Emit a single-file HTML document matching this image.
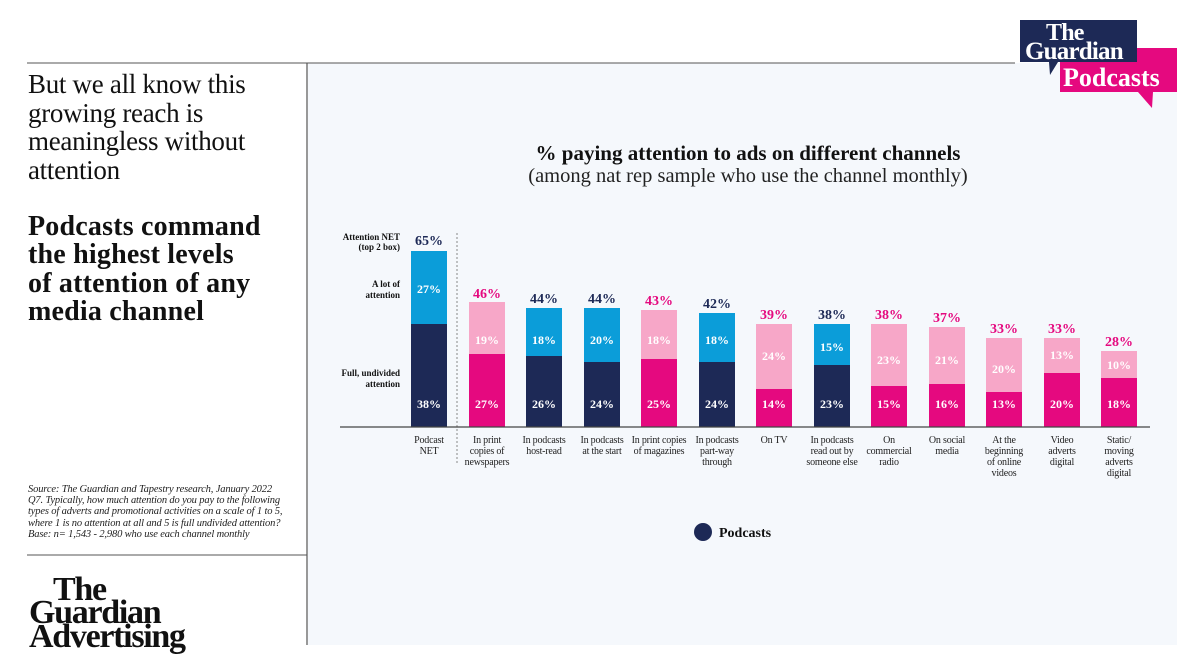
<!DOCTYPE html>
<html><head><meta charset="utf-8"><style>
html,body{margin:0;padding:0;background:#fff;}
svg{display:block;}
.s{font-family:"Liberation Serif",serif;}
</style></head><body>
<svg width="1200" height="672" viewBox="0 0 1200 672" xmlns="http://www.w3.org/2000/svg" class="s">
<rect x="308" y="63" width="869" height="582" fill="#f5f8fc"/>
<line x1="27" y1="63" x2="1015" y2="63" stroke="#555" stroke-width="1"/>
<line x1="307" y1="63" x2="307" y2="645" stroke="#555" stroke-width="1.2"/>
<line x1="27" y1="555" x2="307" y2="555" stroke="#555" stroke-width="1"/>

<g font-size="27" fill="#111" letter-spacing="-0.3">
<text x="28" y="93">But we all know this</text>
<text x="28" y="122">growing reach is</text>
<text x="28" y="150">meaningless without</text>
<text x="28" y="179">attention</text>
</g>
<g font-size="28" font-weight="bold" fill="#111" letter-spacing="0.2">
<text x="28" y="235">Podcasts command</text>
<text x="28" y="263">the highest levels</text>
<text x="28" y="292">of attention of any</text>
<text x="28" y="320">media channel</text>
</g>
<g font-size="10.5" font-style="italic" fill="#222" letter-spacing="-0.15">
<text x="28" y="492">Source: The Guardian and Tapestry research, January 2022</text>
<text x="28" y="503">Q7. Typically, how much attention do you pay to the following</text>
<text x="28" y="514">types of adverts and promotional activities on a scale of 1 to 5,</text>
<text x="28" y="526">where 1 is no attention at all and 5 is full undivided attention?</text>
<text x="28" y="537">Base: n= 1,543 - 2,980 who use each channel monthly</text>
</g>
<g font-size="34" font-weight="bold" fill="#111" letter-spacing="-1.3">
<text x="53" y="600">The</text>
<text x="29" y="623">Guardian</text>
<text x="29" y="647">Advertising</text>
</g>

<!-- logo -->
<path d="M1060 48 H1177 V92 H1153 L1152 108 L1138 92 H1060 Z" fill="#e5097f"/>
<path d="M1020 20 H1137 V62 H1058 L1050 75 L1049 62 H1020 Z" fill="#1d2956"/>
<g font-weight="bold" letter-spacing="-0.8">
<text x="1046" y="40" font-size="24" fill="#fff">The</text>
<text x="1025" y="59" font-size="25" fill="#fff">Guardian</text>
<text x="1063" y="86" font-size="26" fill="#fff" letter-spacing="0">Podcasts</text>
</g>

<!-- title -->
<text x="748" y="160" font-size="21" font-weight="bold" text-anchor="middle" fill="#111">% paying attention to ads on different channels</text>
<text x="748" y="182" font-size="20.5" text-anchor="middle" fill="#222">(among nat rep sample who use the channel monthly)</text>

<!-- axis side labels -->
<g font-size="9" font-weight="bold" text-anchor="end" fill="#111">
<text x="400" y="240">Attention NET</text>
<text x="400" y="250">(top 2 box)</text>
<text x="400" y="287">A lot of</text>
<text x="400" y="298">attention</text>
<text x="400" y="376">Full, undivided</text>
<text x="400" y="387">attention</text>
</g>
<line x1="457" y1="233" x2="457" y2="465" stroke="#888" stroke-dasharray="2,2"/>

<!-- bars -->
<g>
<rect x="411" y="324" width="36" height="103" fill="#1d2956"/><rect x="411" y="251" width="36" height="73" fill="#0b9dd9"/>
<rect x="469" y="354" width="36" height="73" fill="#e5097f"/><rect x="469" y="302" width="36" height="52" fill="#f7a7c8"/>
<rect x="526" y="356" width="36" height="71" fill="#1d2956"/><rect x="526" y="308" width="36" height="48" fill="#0b9dd9"/>
<rect x="584" y="362" width="36" height="65" fill="#1d2956"/><rect x="584" y="308" width="36" height="54" fill="#0b9dd9"/>
<rect x="641" y="359" width="36" height="68" fill="#e5097f"/><rect x="641" y="310" width="36" height="49" fill="#f7a7c8"/>
<rect x="699" y="362" width="36" height="65" fill="#1d2956"/><rect x="699" y="313" width="36" height="49" fill="#0b9dd9"/>
<rect x="756" y="389" width="36" height="38" fill="#e5097f"/><rect x="756" y="324" width="36" height="65" fill="#f7a7c8"/>
<rect x="814" y="365" width="36" height="62" fill="#1d2956"/><rect x="814" y="324" width="36" height="41" fill="#0b9dd9"/>
<rect x="871" y="386" width="36" height="41" fill="#e5097f"/><rect x="871" y="324" width="36" height="62" fill="#f7a7c8"/>
<rect x="929" y="384" width="36" height="43" fill="#e5097f"/><rect x="929" y="327" width="36" height="57" fill="#f7a7c8"/>
<rect x="986" y="392" width="36" height="35" fill="#e5097f"/><rect x="986" y="338" width="36" height="54" fill="#f7a7c8"/>
<rect x="1044" y="373" width="36" height="54" fill="#e5097f"/><rect x="1044" y="338" width="36" height="35" fill="#f7a7c8"/>
<rect x="1101" y="378" width="36" height="49" fill="#e5097f"/><rect x="1101" y="351" width="36" height="27" fill="#f7a7c8"/>
</g>
<line x1="340" y1="427" x2="1150" y2="427" stroke="#444" stroke-width="1.2"/>

<!-- inside labels -->
<g font-size="12" font-weight="bold" fill="#fff" text-anchor="middle">
<text x="429" y="408">38%</text><text x="429" y="293">27%</text>
<text x="487" y="408">27%</text><text x="487" y="344">19%</text>
<text x="544" y="408">26%</text><text x="544" y="344">18%</text>
<text x="602" y="408">24%</text><text x="602" y="344">20%</text>
<text x="659" y="408">25%</text><text x="659" y="344">18%</text>
<text x="717" y="408">24%</text><text x="717" y="344">18%</text>
<text x="774" y="408">14%</text><text x="774" y="360">24%</text>
<text x="832" y="408">23%</text><text x="832" y="351">15%</text>
<text x="889" y="408">15%</text><text x="889" y="364">23%</text>
<text x="947" y="408">16%</text><text x="947" y="364">21%</text>
<text x="1004" y="408">13%</text><text x="1004" y="373">20%</text>
<text x="1062" y="408">20%</text><text x="1062" y="359">13%</text>
<text x="1119" y="408">18%</text><text x="1119" y="369">10%</text>
</g>
<!-- top labels -->
<g font-size="14" font-weight="bold" text-anchor="middle">
<text x="429" y="245" fill="#1d2956">65%</text>
<text x="487" y="298" fill="#e5097f">46%</text>
<text x="544" y="303" fill="#1d2956">44%</text>
<text x="602" y="303" fill="#1d2956">44%</text>
<text x="659" y="305" fill="#e5097f">43%</text>
<text x="717" y="308" fill="#1d2956">42%</text>
<text x="774" y="319" fill="#e5097f">39%</text>
<text x="832" y="319" fill="#1d2956">38%</text>
<text x="889" y="319" fill="#e5097f">38%</text>
<text x="947" y="322" fill="#e5097f">37%</text>
<text x="1004" y="333" fill="#e5097f">33%</text>
<text x="1062" y="333" fill="#e5097f">33%</text>
<text x="1119" y="346" fill="#e5097f">28%</text>
</g>
<!-- category labels -->
<g font-size="10" fill="#222" text-anchor="middle" letter-spacing="-0.2">
<text x="429" y="443">Podcast</text><text x="429" y="454">NET</text>
<text x="487" y="443">In print</text><text x="487" y="454">copies of</text><text x="487" y="465">newspapers</text>
<text x="544" y="443">In podcasts</text><text x="544" y="454">host-read</text>
<text x="602" y="443">In podcasts</text><text x="602" y="454">at the start</text>
<text x="659" y="443">In print copies</text><text x="659" y="454">of magazines</text>
<text x="717" y="443">In podcasts</text><text x="717" y="454">part-way</text><text x="717" y="465">through</text>
<text x="774" y="443">On TV</text>
<text x="832" y="443">In podcasts</text><text x="832" y="454">read out by</text><text x="832" y="465">someone else</text>
<text x="889" y="443">On</text><text x="889" y="454">commercial</text><text x="889" y="465">radio</text>
<text x="947" y="443">On social</text><text x="947" y="454">media</text>
<text x="1004" y="443">At the</text><text x="1004" y="454">beginning</text><text x="1004" y="465">of online</text><text x="1004" y="476">videos</text>
<text x="1062" y="443">Video</text><text x="1062" y="454">adverts</text><text x="1062" y="465">digital</text>
<text x="1119" y="443">Static/</text><text x="1119" y="454">moving</text><text x="1119" y="465">adverts</text><text x="1119" y="476">digital</text>
</g>
<!-- legend -->
<circle cx="703" cy="532" r="9" fill="#1d2956"/>
<text x="719" y="537" font-size="14" font-weight="bold" fill="#111">Podcasts</text>
</svg>
</body></html>
